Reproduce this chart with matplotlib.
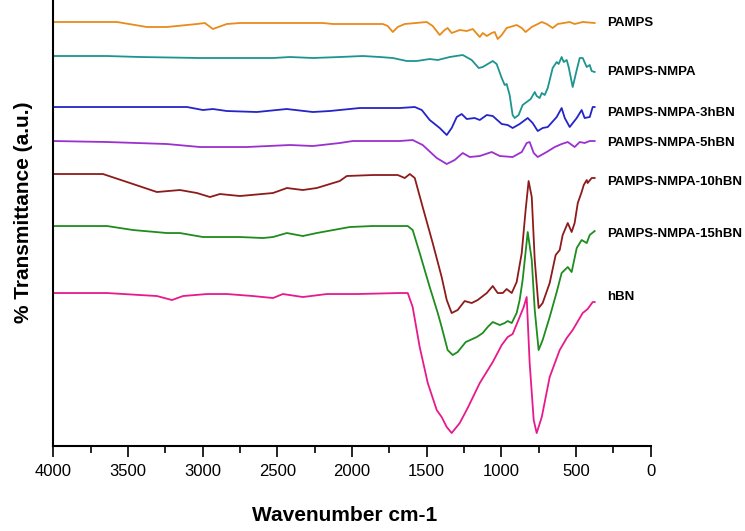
import numpy as np
import matplotlib
matplotlib.use("Agg")
import matplotlib.pyplot as plt
from matplotlib.ticker import MultipleLocator

plt.rcParams['font.family'] = ['Liberation Sans', 'DejaVu Sans']

# FTIR spectra (wavenumber cm-1, transmittance a.u., stacked)
wn_pamps = [4000, 3573, 3373, 3239, 3038, 2985, 2931, 2838, 2750, 2195, 2128, 1794, 1761, 1727, 1694,
            1647, 1500, 1460, 1413, 1380, 1360, 1333, 1279, 1232, 1192, 1145, 1125, 1098, 1065, 1045,
            1025, 998, 965, 898, 864, 838, 797, 730, 697, 657, 623, 543, 510, 456, 376]
t_pamps = [434, 434, 429, 429, 432, 433, 427, 432, 433, 433, 432, 432, 430, 424, 429,
           432, 434, 430, 421, 426, 428, 423, 426, 425, 427, 419, 423, 420, 423, 424,
           417, 421, 428, 431, 428, 424, 429, 434, 432, 428, 432, 434, 432, 434, 433]

wn_nmpa = [4000, 3640, 3419, 3018, 2750, 2529, 2415, 2262, 2082, 1928, 1814, 1727, 1633, 1567, 1480,
           1426, 1346, 1259, 1199, 1152, 1125, 1058, 1032, 998, 978, 965, 945, 925, 911, 885,
           858, 831, 804, 777, 764, 744, 730, 710, 690, 657, 630, 617, 597, 583, 563,
           550, 523, 496, 476, 456, 429, 409, 396, 376]
t_nmpa = [400, 400, 399, 398, 398, 398, 399, 398, 399, 400, 399, 398, 395, 395, 397,
          396, 399, 401, 396, 388, 389, 395, 392, 378, 371, 372, 361, 341, 338, 341,
          351, 354, 357, 364, 360, 358, 363, 361, 368, 388, 394, 392, 399, 394, 396,
          389, 369, 386, 398, 398, 389, 391, 385, 384]

wn_3hbn = [4000, 3104, 2998, 2931, 2838, 2637, 2437, 2262, 2149, 1948, 1814, 1680, 1580, 1533, 1480,
           1413, 1366, 1333, 1299, 1266, 1232, 1179, 1145, 1098, 1058, 998, 958, 925, 878, 824,
           791, 757, 724, 690, 630, 597, 576, 543, 496, 463, 443, 409, 389, 376]
t_3hbn = [349, 349, 346, 347, 345, 344, 347, 344, 345, 348, 348, 348, 349, 346, 336,
          328, 321, 328, 339, 342, 337, 338, 336, 341, 340, 332, 331, 328, 332, 338,
          333, 325, 328, 329, 339, 348, 338, 329, 338, 346, 338, 339, 349, 349]

wn_5hbn = [4000, 3640, 3239, 3018, 2704, 2415, 2262, 2082, 1995, 1680, 1594, 1527, 1433, 1366, 1313,
           1259, 1212, 1145, 1065, 1011, 925, 864, 831, 811, 784, 757, 697, 643, 597, 556,
           510, 476, 443, 409, 376]
t_5hbn = [315, 314, 312, 309, 309, 311, 310, 313, 315, 315, 316, 311, 298, 292, 296,
          303, 299, 300, 304, 300, 299, 304, 313, 314, 303, 299, 304, 309, 312, 314,
          309, 314, 313, 315, 315]

wn_10hbn = [4000, 3667, 3486, 3306, 3152, 3038, 2951, 2884, 2750, 2529, 2436, 2329, 2236, 2082, 2035,
            1861, 1694, 1647, 1613, 1580, 1527, 1460, 1400, 1366, 1333, 1293, 1246, 1199, 1159, 1098,
            1058, 1025, 991, 965, 931, 898, 864, 838, 818, 797, 777, 751, 724, 677, 637,
            610, 590, 556, 530, 510, 489, 463, 449, 429, 423, 396, 376]
t_10hbn = [282, 282, 273, 264, 266, 263, 259, 262, 260, 263, 268, 266, 268, 275, 280,
           281, 281, 278, 282, 278, 249, 213, 179, 156, 143, 146, 155, 153, 156, 163,
           170, 163, 163, 167, 163, 174, 203, 246, 275, 259, 196, 148, 153, 173, 201,
           206, 221, 233, 224, 233, 253, 264, 271, 276, 273, 278, 278]

wn_15hbn = [4000, 3640, 3466, 3239, 3152, 2998, 2750, 2596, 2529, 2436, 2329, 2236, 2015, 1861, 1680,
            1627, 1594, 1547, 1480, 1426, 1400, 1360, 1326, 1293, 1239, 1165, 1125, 1092, 1058, 1011,
            978, 958, 931, 898, 878, 858, 824, 797, 777, 764, 751, 724, 677, 630, 597,
            556, 530, 496, 463, 429, 409, 376]
t_15hbn = [230, 230, 226, 223, 223, 219, 219, 218, 219, 223, 220, 223, 229, 230, 230,
           230, 226, 203, 169, 143, 129, 106, 101, 104, 114, 119, 123, 129, 134, 131,
           133, 135, 133, 143, 156, 176, 224, 196, 146, 126, 106, 116, 139, 164, 183,
           189, 184, 208, 216, 213, 221, 225]

wn_hbn = [4000, 3640, 3419, 3306, 3205, 3131, 2971, 2838, 2664, 2529, 2463, 2329, 2168, 1968, 1680,
          1627, 1594, 1547, 1493, 1433, 1400, 1366, 1333, 1279, 1226, 1145, 1058, 998, 958, 925,
          878, 851, 831, 811, 784, 764, 730, 677, 610, 563, 523, 456, 423, 389, 376]
t_hbn = [163, 163, 161, 160, 156, 160, 162, 162, 160, 158, 162, 159, 162, 162, 163,
         163, 149, 109, 73, 46, 39, 29, 23, 33, 48, 73, 94, 111, 119, 122,
         139, 149, 159, 93, 36, 23, 39, 79, 106, 118, 126, 143, 147, 154, 154]

names = ['PAMPS', 'PAMPS-NMPA', 'PAMPS-NMPA-3hBN', 'PAMPS-NMPA-5hBN',
         'PAMPS-NMPA-10hBN', 'PAMPS-NMPA-15hBN', 'hBN']
label_t = [433, 384, 343, 313, 274, 222, 159]

series = [(wn_pamps, t_pamps), (wn_nmpa, t_nmpa), (wn_3hbn, t_3hbn), (wn_5hbn, t_5hbn),
          (wn_10hbn, t_10hbn), (wn_15hbn, t_15hbn), (wn_hbn, t_hbn)]
colors = ['#E98B1A', '#1E9490', '#2424C8', '#9B30D0', '#8E1B1B', '#1E8C1E', '#E8198B']

fig = plt.figure(figsize=(7.45, 5.31), dpi=100)
ax = fig.add_axes([0.0714, 0.160, 0.8022, 0.840])

for (wn, t), c, name, ly in zip(series, colors, names, label_t):
    ax.plot(wn, t, color=c, lw=1.3)
    ax.text(295, ly, name, fontsize=9.5, fontweight='bold', va='center', ha='left',
            clip_on=False)

ax.set_xlim(4000, 0)
ax.set_ylim(10, 456)
ax.xaxis.set_major_locator(MultipleLocator(500))
ax.xaxis.set_minor_locator(MultipleLocator(250))
ax.tick_params(axis='x', which='major', direction='out', length=8, width=1.2,
               labelsize=12, pad=5)
ax.tick_params(axis='x', which='minor', direction='out', length=5, width=1.2)
ax.set_yticks([])

# only left and bottom axis lines
ax.spines['top'].set_visible(False)
ax.spines['right'].set_visible(False)
ax.spines['left'].set_linewidth(1.5)
ax.spines['bottom'].set_linewidth(1.5)

fig.text(0.463, 0.030, 'Wavenumber cm-1', fontsize=15, fontweight='bold', ha='center', va='center')
fig.text(0.031, 0.601, '% Transmittance (a.u.)', fontsize=15, fontweight='bold',
         rotation=90, ha='center', va='center')

fig.savefig('out.png', dpi=100)
